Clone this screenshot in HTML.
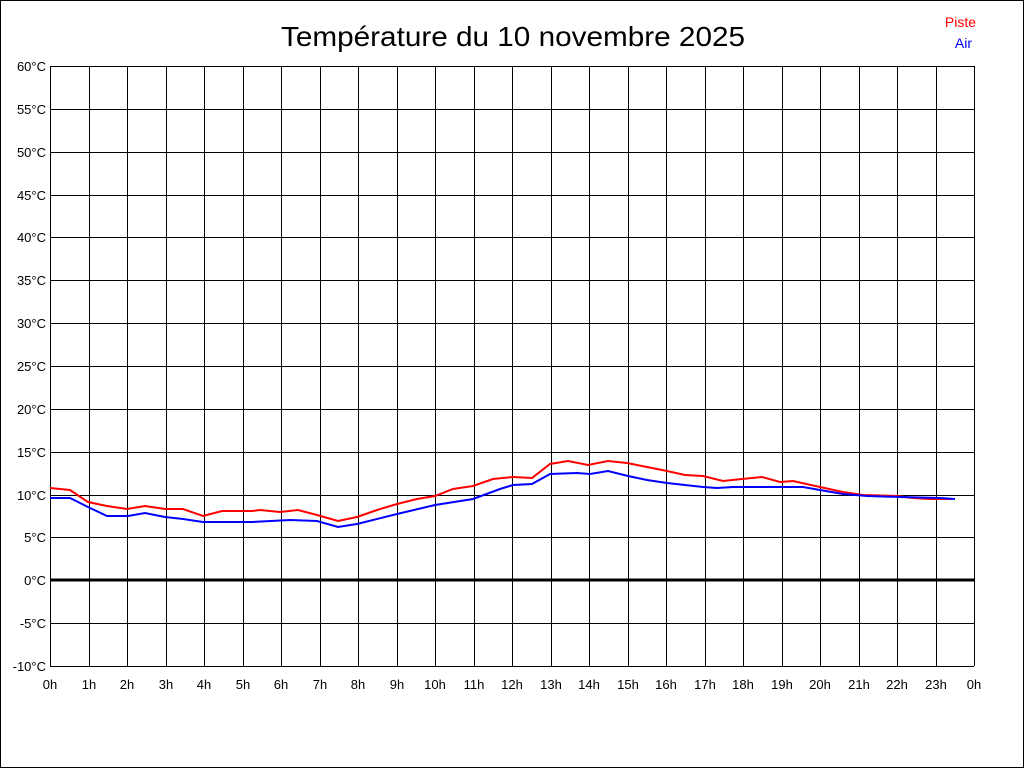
<!DOCTYPE html>
<html><head><meta charset="utf-8"><style>
html,body{margin:0;padding:0;background:#fff}
svg{display:block}
text{font-family:"Liberation Sans",Arial,sans-serif}
</style></head><body>
<svg width="1024" height="768" viewBox="0 0 1024 768" xmlns="http://www.w3.org/2000/svg">
<rect x="0.5" y="0.5" width="1023" height="767" fill="#fff" stroke="#000"/>
<text x="281" y="46" font-size="28" textLength="464" lengthAdjust="spacingAndGlyphs">Température du 10 novembre 2025</text>
<text x="976" y="27" font-size="14" fill="#f00" text-anchor="end">Piste</text>
<text x="972" y="48" font-size="14" fill="#00f" text-anchor="end">Air</text>
<g stroke="#000" stroke-width="1" shape-rendering="crispEdges" fill="none" id="grid"></g>
<g id="labels" font-size="13"></g>
<polyline fill="none" stroke="#f00" stroke-width="2" points="50,488 70,490 88,502 107,506 127,509 145,506 165,509 183,509 203,516 222,511 252,511 260,510 280,512 298,510 317,515 338,521 357,517 377,510 397,504 417,499 435,496 453,489 473,486 493,479 513,477 532,478 550,464 568,461 588,465 608,461 627,463 647,467 667,471 685,475 703,476 723,481 742,479 762,477 780,482 793,481 820,487 843,492 863,495 897,496 913,498 930,499 952,499"/>
<polyline fill="none" stroke="#00f" stroke-width="2" points="50,498 70,498 88,507 107,516 128,516 145,513 165,517 183,519 203,522 252,522 290,520 317,521 338,527 357,524 397,514 435,505 473,499 500,489 513,485 532,484 550,474 577,473 590,474 608,471 628,476 647,480 667,483 703,487 717,488 733,487 803,487 820,490 843,494 867,496 900,497 940,498 955,499"/>
</svg>
<script>
var ns="http://www.w3.org/2000/svg",g=document.getElementById("grid"),L=document.getElementById("labels");
function el(p,t,a){var e=document.createElementNS(ns,t);for(var k in a)e.setAttribute(k,a[k]);p.appendChild(e);return e;}
for(var i=0;i<=14;i++){var y=66+i*600/14;y=Math.round(y);var v=60-5*i;
 if(v!==0)el(g,"line",{x1:50,x2:974,y1:y+.5,y2:y+.5});
 var t=el(L,"text",{x:46,y:y+5,"text-anchor":"end"});t.textContent=v+"°C";}
for(var h=0;h<=24;h++){var x=Math.round(50+h*38.5);
 el(g,"line",{x1:x+.5,x2:x+.5,y1:66,y2:666});
 var t=el(L,"text",{x:x,y:689,"text-anchor":"middle"});t.textContent=(h%24)+"h";}
el(g,"line",{x1:50,x2:974,y1:580,y2:580,"stroke-width":3});
</script>
</body></html>
